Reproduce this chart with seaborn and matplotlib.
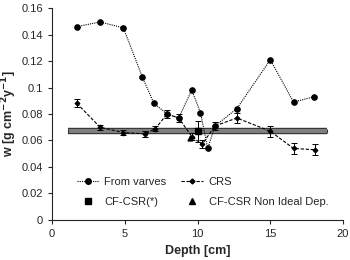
import numpy as np
import pandas as pd
import matplotlib
matplotlib.use("Agg")
import matplotlib.pyplot as plt
from matplotlib.lines import Line2D
import seaborn as sns

# values
varves_depth = [1.7, 3.3, 4.9, 6.2, 7.0, 7.9, 8.7, 9.6, 10.2, 10.7, 11.2, 12.7, 15.0, 16.6, 18.0]
varves_w = [0.146, 0.1495, 0.145, 0.108, 0.088, 0.080, 0.077, 0.098, 0.081, 0.054, 0.071, 0.084, 0.121, 0.089, 0.093]

crs_depth = [1.7, 3.3, 4.9, 6.4, 7.1, 7.9, 8.7, 9.6, 10.3, 11.2, 12.7, 15.0, 16.6, 18.1]
crs_w = [0.088, 0.070, 0.066, 0.065, 0.069, 0.080, 0.077, 0.063, 0.057, 0.071, 0.077, 0.067, 0.054, 0.053]
crs_err = [0.003, 0.002, 0.002, 0.002, 0.002, 0.003, 0.003, 0.003, 0.003, 0.003, 0.004, 0.004, 0.004, 0.004]

cfcsr_depth = [10.0]
cfcsr_w = [0.067]
cfcsr_err = [0.008]

nonideal_depth = [9.5]
nonideal_w = [0.062]

mean_w = 0.067
mean_range = [1.1, 18.9]

yticks = [0, 0.02, 0.04, 0.06, 0.08, 0.1, 0.12, 0.14, 0.16]
ytick_labels = ["0", "0.02", "0.04", "0.06", "0.08", "0.1", "0.12", "0.14", "0.16"]
xticks = [0, 5, 10, 15, 20]

sns.set_style("ticks")
plt.rcParams["font.family"] = ["Liberation Sans", "DejaVu Sans"]
plt.rcParams["mathtext.default"] = "bf"

fig = plt.figure(figsize=(3.5, 2.6), dpi=100)
ax = fig.add_axes([0.149, 0.154, 0.831, 0.815])

# CF-CSR mean band
ax.plot(mean_range, [mean_w, mean_w], color="#333333", lw=4.6, solid_capstyle="butt", zorder=1)
ax.plot(mean_range, [mean_w, mean_w], color="#7f7f7f", lw=3.0, solid_capstyle="butt", zorder=1)
ax.errorbar(mean_range, [mean_w, mean_w], yerr=0.0017, fmt="none", ecolor="#333333", elinewidth=0.8, zorder=1)

varves = pd.DataFrame({"depth": varves_depth, "w": varves_w})
crs = pd.DataFrame({"depth": crs_depth, "w": crs_w})

sns.lineplot(data=varves, x="depth", y="w", sort=False, ax=ax, color="black", lw=0.8,
             linestyle=(0, (1, 1)), marker="o", markersize=4, markeredgecolor="black",
             legend=False, zorder=3)
ax.errorbar(crs_depth, crs_w, yerr=crs_err, fmt="none", ecolor="black", elinewidth=0.7,
            capsize=2, capthick=0.7, zorder=2)
sns.lineplot(data=crs, x="depth", y="w", sort=False, ax=ax, color="black", lw=0.8,
             linestyle=(0, (3, 1.5)), marker="D", markersize=2.5, markeredgecolor="black",
             legend=False, zorder=3)
ax.errorbar(cfcsr_depth, cfcsr_w, yerr=cfcsr_err, fmt="s", color="black", markersize=5,
            elinewidth=0.7, capsize=2, capthick=0.7, zorder=4)
ax.plot(nonideal_depth, nonideal_w, "^", color="black", markersize=3.5, ls="none", zorder=4)

ax.set_xlim(0, 20)
ax.set_ylim(0, 0.16)
ax.set_xticks(xticks)
ax.set_yticks(yticks)
ax.set_yticklabels(ytick_labels)
ax.tick_params(labelsize=8, length=3, width=0.8)
for s in ["left", "bottom"]:
    ax.spines[s].set_linewidth(0.8)
sns.despine(ax=ax)

ax.set_xlabel("Depth [cm]", fontsize=9, fontweight="bold")
ax.set_ylabel("w [g cm$^{-2}$y$^{-1}$]", fontsize=9, fontweight="bold", labelpad=2)

# legend, column-major: varves / CF-CSR, then CRS / non ideal
handles = [
    Line2D([], [], color="black", lw=0.8, ls=(0, (1, 1)), marker="o", markersize=4),
    Line2D([], [], color="black", ls="none", marker="s", markersize=5),
    Line2D([], [], color="black", lw=0.8, ls=(0, (3, 1.5)), marker="D", markersize=2.5),
    Line2D([], [], color="black", ls="none", marker="^", markersize=4),
]
labels = ["From varves", "CF-CSR(*)", "CRS", "CF-CSR Non Ideal Dep."]
ax.legend(handles, labels, ncol=2, frameon=False, fontsize=8, loc="lower left",
          bbox_to_anchor=(0.05, 0.015), handlelength=2.0, handletextpad=0.5,
          columnspacing=1.3, labelspacing=0.9)

fig.savefig("out.png", dpi=100)
